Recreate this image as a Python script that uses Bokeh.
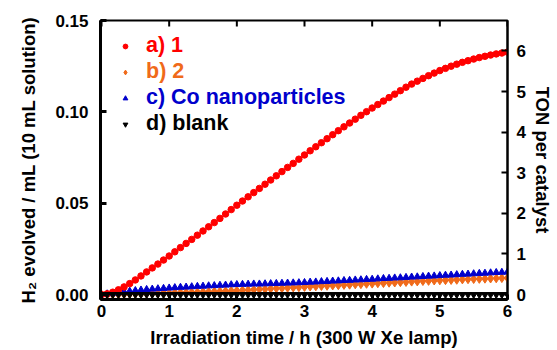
import math
from bokeh.plotting import figure
from bokeh.models import (ColumnDataSource, Range1d, LinearAxis, FixedTicker,
                          PrintfTickFormatter, Legend, LegendItem)
from bokeh.embed import file_html
from bokeh.resources import INLINE

# ---- data -------------------------------------------------------------
time_min = [0, 5, 10, 15, 20, 25, 30, 35, 40, 45, 50, 55,
            60, 65, 70, 75, 80, 85, 90, 95, 100, 105, 110, 115,
            120, 125, 130, 135, 140, 145, 150, 155, 160, 165, 170, 175,
            180, 185, 190, 195, 200, 205, 210, 215, 220, 225, 230, 235,
            240, 245, 250, 255, 260, 265, 270, 275, 280, 285, 290, 295,
            300, 305, 310, 315, 320, 325, 330, 335, 340, 345, 350, 355,
            360]

h2_cat1 = [0.0000, 0.0004, 0.0013, 0.0026, 0.0042, 0.0060, 0.0080, 0.0102, 0.0124, 0.0146, 0.0167, 0.0189,
           0.0211, 0.0234, 0.0257, 0.0280, 0.0302, 0.0325, 0.0348, 0.0371, 0.0394, 0.0417, 0.0441, 0.0465,
           0.0489, 0.0512, 0.0535, 0.0558, 0.0581, 0.0604, 0.0627, 0.0650, 0.0673, 0.0696, 0.0718, 0.0741,
           0.0764, 0.0787, 0.0809, 0.0831, 0.0853, 0.0875, 0.0897, 0.0918, 0.0939, 0.0960, 0.0981, 0.1001,
           0.1021, 0.1040, 0.1059, 0.1078, 0.1097, 0.1116, 0.1135, 0.1152, 0.1168, 0.1183, 0.1198, 0.1212,
           0.1226, 0.1238, 0.1250, 0.1261, 0.1271, 0.1280, 0.1289, 0.1297, 0.1304, 0.1311, 0.1317, 0.1322,
           0.1327]

h2_cat2 = [0.0000, 0.0000, 0.0001, 0.0001, 0.0002, 0.0003, 0.0004, 0.0005, 0.0006, 0.0006, 0.0007, 0.0008,
           0.0009, 0.0010, 0.0011, 0.0012, 0.0013, 0.0014, 0.0015, 0.0016, 0.0017, 0.0018, 0.0019, 0.0021,
           0.0022, 0.0024, 0.0025, 0.0027, 0.0029, 0.0030, 0.0032, 0.0034, 0.0035, 0.0037, 0.0039, 0.0040,
           0.0042, 0.0044, 0.0045, 0.0047, 0.0048, 0.0050, 0.0051, 0.0053, 0.0054, 0.0056, 0.0057, 0.0059,
           0.0060, 0.0062, 0.0063, 0.0065, 0.0066, 0.0068, 0.0069, 0.0071, 0.0072, 0.0074, 0.0075, 0.0077,
           0.0078, 0.0079, 0.0080, 0.0081, 0.0083, 0.0084, 0.0085, 0.0086, 0.0087, 0.0088, 0.0089, 0.0090,
           0.0091]

h2_co_np = [0.0000, 0.0004, 0.0008, 0.0011, 0.0015, 0.0019, 0.0022, 0.0025, 0.0028, 0.0030, 0.0032, 0.0034,
            0.0036, 0.0038, 0.0040, 0.0041, 0.0043, 0.0045, 0.0046, 0.0048, 0.0049, 0.0051, 0.0052, 0.0054,
            0.0055, 0.0056, 0.0057, 0.0058, 0.0058, 0.0059, 0.0060, 0.0061, 0.0062, 0.0063, 0.0064, 0.0065,
            0.0066, 0.0068, 0.0069, 0.0071, 0.0072, 0.0074, 0.0075, 0.0077, 0.0078, 0.0080, 0.0081, 0.0083,
            0.0084, 0.0086, 0.0088, 0.0089, 0.0091, 0.0092, 0.0094, 0.0096, 0.0097, 0.0099, 0.0101, 0.0102,
            0.0104, 0.0106, 0.0107, 0.0109, 0.0111, 0.0112, 0.0114, 0.0116, 0.0117, 0.0119, 0.0121, 0.0122,
            0.0124]

h2_blank = [0.0, 0.0, 0.0, 0.0, 0.0, 0.0, 0.0, 0.0, 0.0, 0.0, 0.0, 0.0,
            0.0, 0.0, 0.0, 0.0, 0.0, 0.0, 0.0, 0.0, 0.0, 0.0, 0.0, 0.0,
            0.0, 0.0, 0.0, 0.0, 0.0, 0.0, 0.0, 0.0, 0.0, 0.0, 0.0, 0.0,
            0.0, 0.0, 0.0, 0.0, 0.0, 0.0, 0.0, 0.0, 0.0, 0.0, 0.0, 0.0,
            0.0, 0.0, 0.0, 0.0, 0.0, 0.0, 0.0, 0.0, 0.0, 0.0, 0.0, 0.0,
            0.0, 0.0, 0.0, 0.0, 0.0, 0.0, 0.0, 0.0, 0.0, 0.0, 0.0, 0.0,
            0.0]

series_labels = ["a) 1", "b) 2", "c) Co nanoparticles", "d) blank"]
x_ticks = [0, 1, 2, 3, 4, 5, 6]
y_ticks = [0.0, 0.05, 0.10, 0.15]
ton_ticks = [0, 1, 2, 3, 4, 5, 6]
ton_factor = 45.0   # TON per mL H2 (right axis scale)

# ---- style ------------------------------------------------------------
FONT = "Liberation Sans"
RED = "#FF0000"
ORANGE = "#F06A1A"
BLUE = "#0000CC"
BLACK = "#000000"

hours = [m / 60.0 for m in time_min]
src = ColumnDataSource(dict(t=hours, a=h2_cat1, b=h2_cat2, c=h2_co_np, d=h2_blank))

x0, x1 = -0.015, 6.0
y0, y1 = -0.0027, 0.15
p = figure(width=557, height=350, output_backend="svg", toolbar_location=None,
           x_range=Range1d(x0, x1), y_range=Range1d(y0, y1),
           x_axis_location=None, y_axis_location=None,
           min_border_left=100, min_border_right=50, min_border_top=20, min_border_bottom=50)
p.outline_line_color = "black"
p.outline_line_width = 2
p.xgrid.visible = False
p.ygrid.visible = False
p.background_fill_color = "white"
p.border_fill_color = "white"
p.extra_y_ranges = {"ton": Range1d(y0 * ton_factor, y1 * ton_factor)}


def style_axis(ax, lw, tick_in, tick_w):
    ax.axis_line_width = lw
    ax.axis_line_color = "black"
    ax.major_tick_in = tick_in
    ax.major_tick_out = 0
    ax.major_tick_line_width = tick_w
    ax.minor_tick_line_color = None
    ax.major_label_text_font = FONT
    ax.major_label_text_font_style = "bold"
    ax.major_label_text_font_size = "17px"
    ax.major_label_text_color = "black"
    ax.axis_label_text_font = FONT
    ax.axis_label_text_font_style = "bold"
    ax.axis_label_text_font_size = "18.5px"
    ax.axis_label_text_color = "black"


bottom = LinearAxis(ticker=FixedTicker(ticks=x_ticks),
                    axis_label="Irradiation time / h (300 W Xe lamp)")
style_axis(bottom, 3, 5, 3)
bottom.major_label_standoff = 5
bottom.axis_label_standoff = 7
p.add_layout(bottom, "below")

left = LinearAxis(ticker=FixedTicker(ticks=y_ticks),
                  formatter=PrintfTickFormatter(format="%.2f"),
                  axis_label="H\u2082 evolved / mL (10 mL solution)")
style_axis(left, 3, 6, 3)
left.major_label_standoff = 12
left.axis_label_standoff = 13
p.add_layout(left, "left")

right = LinearAxis(y_range_name="ton", ticker=FixedTicker(ticks=ton_ticks),
                   axis_label="TON per catalyst")
style_axis(right, 2, 6, 2)
right.major_label_standoff = 9
right.axis_label_standoff = 3
p.add_layout(right, "right")

# inward tick marks on the top frame edge (clipped to the frame)
p.scatter(x=x_ticks, y=[y1] * len(x_ticks), marker="dash", angle=math.pi / 2,
          size=12, line_width=2, line_color="black")

# ---- data marks ------------------------------------------------------
r_b = p.scatter("t", "b", source=src, marker="diamond", size=9, color=ORANGE)
r_c = p.scatter("t", "c", source=src, marker="triangle", size=7, color=BLUE)
r_a = p.scatter("t", "a", source=src, marker="circle", size=6.5, color=RED)
r_d = p.scatter("t", "d", source=src, marker="inverted_triangle", size=7, color=BLACK)

# ---- legend (one per entry so each label gets its own colour) --------
entries = [(series_labels[0], r_a, RED), (series_labels[1], r_b, ORANGE),
           (series_labels[2], r_c, BLUE), (series_labels[3], r_d, BLACK)]
for i, (lab, rend, col) in enumerate(entries):
    lg = Legend(items=[LegendItem(label=lab, renderers=[rend])],
                location=(19, 241 - 26 * i),
                label_text_color=col, label_text_font=FONT,
                label_text_font_style="bold", label_text_font_size="21.5px",
                glyph_width=12, glyph_height=12, label_height=20,
                label_standoff=15, padding=0, margin=0, spacing=0,
                border_line_color=None, background_fill_alpha=0)
    p.add_layout(lg, "center")

open("out.html", "w").write(file_html(p, INLINE))
